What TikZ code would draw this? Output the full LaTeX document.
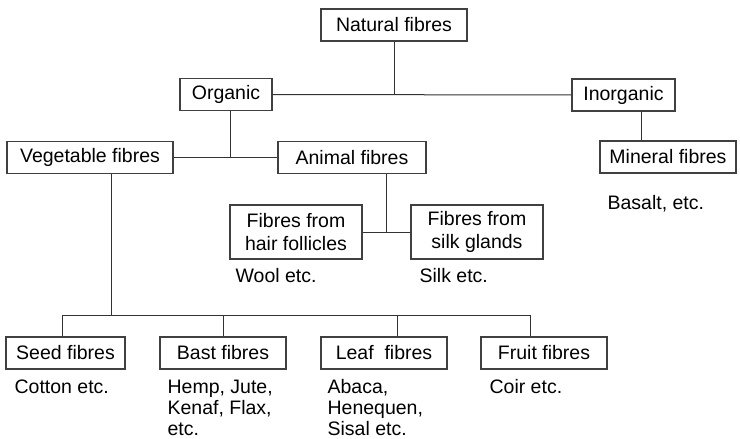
\documentclass[tikz,border=0pt]{standalone}
\usepackage{fontspec}
\setmainfont{Liberation Sans}
\usetikzlibrary{positioning,calc}

\begin{document}
\begin{tikzpicture}[
  x=1pt, y=-1pt,
  font=\fontsize{19.5}{23}\selectfont,
  box/.style={draw=black!75, line width=1.2pt, inner sep=0pt, minimum height=32pt, align=center},
  txt/.style={inner sep=0pt, align=left, font=\fontsize{19.5}{21}\selectfont},
  ln/.style={draw=black!80, line width=1pt},
]
\useasboundingbox (0,0) rectangle (740,439);
% boxes
\node[box, minimum width=146pt] (nat) at (394,25) {Natural fibres};
\node[box, minimum width=92pt] (org) at (226,94.5) {Organic};
\node[box, minimum width=103pt] (inorg) at (623.5,95) {Inorganic};
\node[box, minimum width=166pt] (veg) at (90,157.5) {Vegetable fibres};
\node[box, minimum width=148pt] (anim) at (352,157.5) {Animal fibres};
\node[box, minimum width=136pt] (min) at (668,157) {Mineral fibres};
\node[box, minimum width=132pt, minimum height=54pt] (hair) at (296,232) {Fibres from\\hair follicles};
\node[box, minimum width=132pt, minimum height=54pt] (silk) at (477,232) {Fibres from\\silk glands};
\node[box, minimum width=119pt] (seed) at (65.5,353) {Seed fibres};
\node[box, minimum width=126pt] (bast) at (223,353) {Bast fibres};
\node[box, minimum width=126pt] (leaf) at (384,353) {Leaf~ fibres};
\node[box, minimum width=126pt] (fruit) at (544,353) {Fruit fibres};
% examples
\node[txt, below right=22pt and 8pt of min.south west] (basalt) {Basalt, etc.};
\node[txt, below right=9pt and 6pt of hair.south west] (wool) {Wool etc.};
\node[txt, below right=9pt and 9pt of silk.south west] (silkeg) {Silk etc.};
\node[txt, below right=10pt and 9pt of seed.south west] (cotton) {Cotton etc.};
\node[txt, below right=10pt and 8pt of bast.south west] (hemp) {Hemp, Jute,\\Kenaf, Flax,\\etc.};
\node[txt, below right=10pt and 7pt of leaf.south west] (abaca) {Abaca,\\Henequen,\\Sisal etc.};
\node[txt, below right=10pt and 9pt of fruit.south west] (coir) {Coir etc.};
% tree lines
\draw[ln] (nat) -- (nat |- org);
\draw[ln] (org) -- (inorg);
\coordinate (ov) at ([xshift=4pt]org.south);
\draw[ln] (ov) -- (ov |- veg);
\draw[ln] (veg) -- (anim);
\coordinate (mi) at ([xshift=18pt]inorg.south);
\draw[ln] (mi) -- (mi |- min.north);
\coordinate (hs) at ($(hair.east)!0.5!(silk.west)$);
\draw[ln] (anim.south -| hs) -- (hs);
\draw[ln] (hair) -- (silk);
\coordinate (vb) at ([xshift=21pt]veg.south);
\coordinate (bus) at ($(vb |- seed.north)+(0,-21)$);
\draw[ln] (vb) -- (bus);
\foreach \b/\dx in {seed/-3.5, bast/0, leaf/13, fruit/-14}
  \draw[ln] (bus) -| ([xshift=\dx pt]\b.north);
\end{tikzpicture}
\end{document}
